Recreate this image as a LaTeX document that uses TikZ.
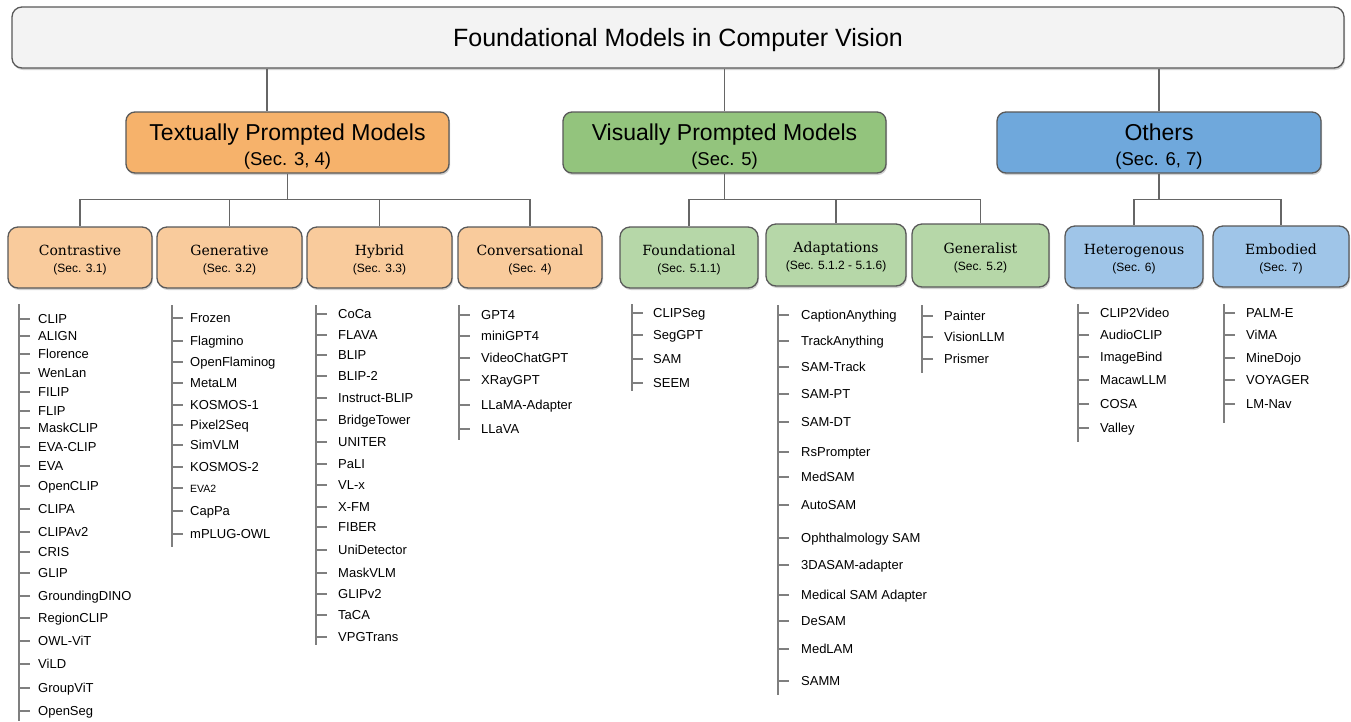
\documentclass[tikz,border=0pt]{standalone}
\usepackage{fontspec}
\setmainfont{Liberation Sans}
\newfontfamily\slabfont{DejaVu Serif}
\usetikzlibrary{shadows}
\definecolor{bordc}{HTML}{595959}
\definecolor{linec}{HTML}{666666}
\definecolor{trunkc}{HTML}{7F7F7F}
\definecolor{topc}{HTML}{F3F3F3}
\definecolor{orangeA}{HTML}{F6B26B}
\definecolor{orangeB}{HTML}{F9CB9C}
\definecolor{greenA}{HTML}{93C47D}
\definecolor{greenB}{HTML}{B6D7A8}
\definecolor{blueA}{HTML}{6FA8DC}
\definecolor{blueB}{HTML}{9FC5E8}
\tikzset{
  box/.style={draw=bordc, line width=1.3pt, rounded corners=9pt,
    drop shadow={shadow xshift=1pt, shadow yshift=-2pt, opacity=0.35}},
  conn/.style={draw=linec, line width=1.5pt},
  trunk/.style={draw=trunkc, line width=1.4pt},
  lbl/.style={inner sep=0pt, text depth=0pt},
  bigt/.style={lbl, text height=16.5pt, font=\fontsize{23}{27}\selectfont},
  bigs/.style={lbl, text height=13.3pt, font=\fontsize{18.5}{22}\selectfont},
  subt/.style={lbl, text height=10.2pt, font=\slabfont\fontsize{14}{17}\selectfont},
  subs/.style={lbl, text height=8.6pt, font=\fontsize{12}{14}\selectfont},
  item/.style={anchor=west, inner sep=0pt, text height=9.3pt, text depth=0pt,
    font=\fontsize{13}{15}\selectfont},
}
\newcommand{\modellist}[6]{%
  \coordinate (#1top) at (#2,#3);
  \coordinate (#1bot) at (#2,#4);
  \draw[trunk] (#1top) -- (#1bot);
  \foreach \yy/\lbl [count=\i] in {#6} {
    \node[item] (#1\i) at (#2+#5,\yy) {\lbl};
    \draw[trunk] (#1top |- #1\i.west) -- ++(11,0);
  }
}
\newcommand{\subbox}[7]{% name, fill, x1, x2, y1, y2, texts
  \node[box, fill=#2, rounded corners=10pt, minimum width={#4-#3}, minimum height={#6-#5}]
    (#1) at ({(#3+#4)/2},{(#5+#6)/2}) {};
  #7
}
\begin{document}
\begin{tikzpicture}[x=1pt,y=-1pt]
\useasboundingbox (0,0) rectangle (1351,721);
\fill[white] (0,0) rectangle (1351,721);

% top box
\node[box, fill=topc, rounded corners=10pt, minimum width=1332pt, minimum height=61pt] (top) at (678,37.5) {};
\node[lbl, text height=18pt, font=\fontsize{25}{30}\selectfont] (toptxt) at (top.center) {Foundational Models in Computer Vision};

% level 2
\node[box, fill=orangeA, minimum width=323pt, minimum height=61pt] (tp) at (287.5,142.5) {};
\node[bigt] (tpt) at ([yshift=10.5pt]tp.center) {Textually Prompted Models};
\node[bigs] (tps) at ([yshift=-16pt]tp.center) {(Sec. 3, 4)};

\node[box, fill=greenA, minimum width=323pt, minimum height=61pt] (vp) at (724.5,142.5) {};
\node[bigt] (vpt) at ([yshift=10.5pt]vp.center) {Visually Prompted Models};
\node[bigs] (vps) at ([yshift=-16pt]vp.center) {(Sec. 5)};

\node[box, fill=blueA, minimum width=324pt, minimum height=61pt] (ot) at (1159,142.5) {};
\node[bigt] (ott) at ([yshift=10.5pt]ot.center) {Others};
\node[bigs] (ots) at ([yshift=-16pt]ot.center) {(Sec. 6, 7)};

% connectors top -> level 2
\coordinate (tpx) at (267,0);
\draw[conn] (top.south -| tpx) -- (tp.north -| tpx);
\draw[conn] (top.south -| vp.north) -- (vp.north);
\draw[conn] (top.south -| ot.north) -- (ot.north);

% level 3 boxes
\newcommand{\subtexts}[3]{%
  \node[subt] (#1t) at ([yshift=7.5pt]#1.center) {#2};
  \node[subs] (#1s) at ([yshift=-10.5pt]#1.center) {#3};}
\subbox{con}{orangeB}{8}{152}{227}{288}{\subtexts{con}{Contrastive}{(Sec. 3.1)}}
\subbox{gen}{orangeB}{157}{302}{227}{288}{\subtexts{gen}{Generative}{(Sec. 3.2)}}
\subbox{hyb}{orangeB}{307}{452}{227}{288}{\subtexts{hyb}{Hybrid}{(Sec. 3.3)}}
\subbox{cnv}{orangeB}{458}{602}{227}{288}{\subtexts{cnv}{Conversational}{(Sec. 4)}}
\subbox{fnd}{greenB}{620}{758}{227}{288}{\subtexts{fnd}{Foundational}{(Sec. 5.1.1)}}
\subbox{ada}{greenB}{766}{906}{224}{286}{\subtexts{ada}{Adaptations}{(Sec. 5.1.2 - 5.1.6)}}
\subbox{gnl}{greenB}{912}{1049}{224}{287}{\subtexts{gnl}{Generalist}{(Sec. 5.2)}}
\subbox{het}{blueB}{1065}{1203}{226}{288}{\subtexts{het}{Heterogenous}{(Sec. 6)}}
\subbox{emb}{blueB}{1213}{1349}{226}{287}{\subtexts{emb}{Embodied}{(Sec. 7)}}

% connectors level 2 -> level 3
\foreach \c in {con,gen,hyb,cnv} \draw[conn] (tp.south) -- ++(0,26) -| (\c.north);
\foreach \c in {fnd,ada,gnl} \draw[conn] (vp.south) -- ++(0,26) -| (\c.north);
\foreach \c in {het,emb} \draw[conn] (ot.south) -- ++(0,26) -| (\c.north);

% lists
\modellist{L1}{19}{304}{721}{19}{319/CLIP, 336/ALIGN, 354/Florence, 373/WenLan, 392/FILIP, 411/FLIP, 428/MaskCLIP, 447/EVA-CLIP, 466/EVA, 486/OpenCLIP, 509/CLIPA, 532/CLIPAv2, 552/CRIS, 573/GLIP, 596/GroundingDINO, 618/RegionCLIP, 641/OWL-ViT, 664/ViLD, 688/GroupViT, 711/OpenSeg}
\modellist{L2}{172}{305}{547}{18}{318/Frozen, 341/Flagmino, 362/OpenFlaminog, 383/MetaLM, 405/KOSMOS-1, 425/Pixel2Seq, 445/SimVLM, 467/KOSMOS-2, 488/{\fontsize{10.5}{12}\selectfont EVA2}, 511/CapPa, 534/mPLUG-OWL}
\modellist{L3}{316}{305}{645}{22}{314/CoCa, 335/FLAVA, 355/BLIP, 376/BLIP-2, 398/Instruct-BLIP, 420/BridgeTower, 442/UNITER, 464/PaLI, 485/VL-x, 507/X-FM, 527/FIBER, 550/UniDetector, 573/MaskVLM, 594/GLIPv2, 615/TaCA, 637/VPGTrans}
\modellist{L4}{459}{305}{440}{22}{315/GPT4, 336/miniGPT4, 358/VideoChatGPT, 380/XRayGPT, 405/LLaMA-Adapter, 429/LLaVA}
\modellist{L5}{632}{304}{391}{21}{313/CLIPSeg, 335/SegGPT, 359/SAM, 383/SEEM}
\modellist{L6}{778}{305}{695}{23}{315/CaptionAnything, 341/TrackAnything, 367/SAM-Track, 394/SAM-PT, 422/SAM-DT, 452/RsPrompter, 477/MedSAM, 505/AutoSAM, 538/Ophthalmology SAM, 565/3DASAM-adapter, 595/Medical SAM Adapter, 621/DeSAM, 649/MedLAM, 681/SAMM}
\modellist{L7}{922}{305}{373}{22}{316/Painter, 337/VisionLLM, 359/Prismer}
\modellist{L8}{1078}{304}{442}{22}{313/CLIP2Video, 335/AudioCLIP, 357/ImageBind, 380/MacawLLM, 404/COSA, 428/Valley}
\modellist{L9}{1224}{304}{423}{22}{313/PALM-E, 335/ViMA, 358/MineDojo, 380/VOYAGER, 404/LM-Nav}
\end{tikzpicture}
\end{document}
